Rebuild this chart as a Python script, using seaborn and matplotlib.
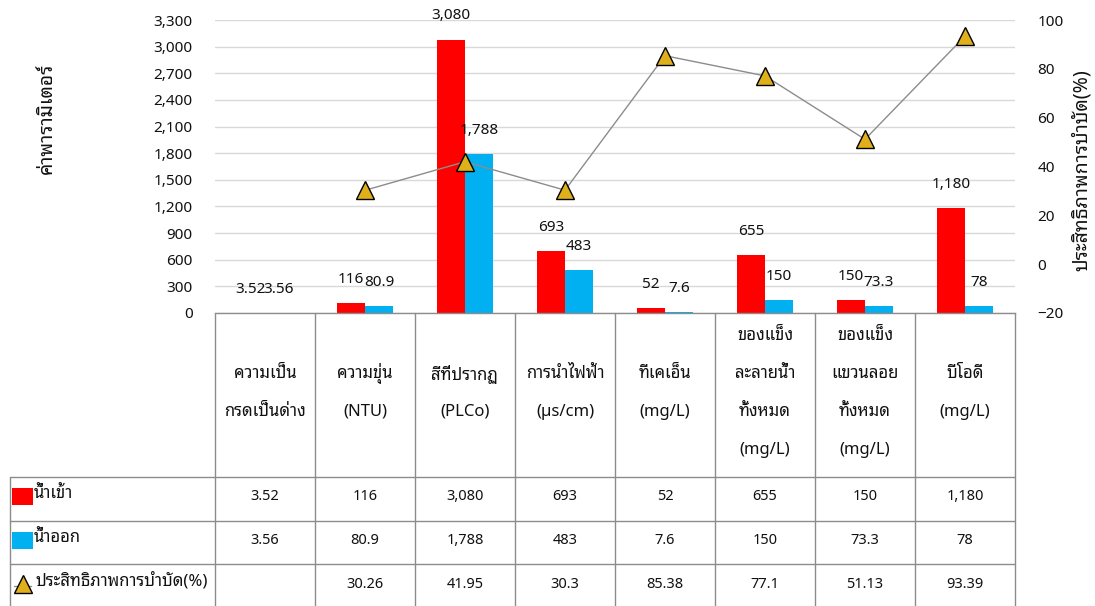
import numpy as np
import pandas as pd
import matplotlib
matplotlib.use("Agg")
import matplotlib.pyplot as plt
import seaborn as sns
from matplotlib.patches import Rectangle
from matplotlib.lines import Line2D
from matplotlib.transforms import blended_transform_factory
from matplotlib.ticker import FuncFormatter

# ---- data -------------------------------------------------------------
category_lines = [
    ["ความเป็น", "กรดเป็นด่าง"],
    ["ความขุ่น", "(NTU)"],
    ["สีที่ปรากฏ", "(PLCo)"],
    ["การนำไฟฟ้า", "(µs/cm)"],
    ["ทีเคเอ็น", "(mg/L)"],
    ["ของแข็ง", "ละลายน้ำ", "ทั้งหมด", "(mg/L)"],
    ["ของแข็ง", "แขวนลอย", "ทั้งหมด", "(mg/L)"],
    ["บีโอดี", "(mg/L)"],
]
inflow = [3.52, 116, 3080, 693, 52, 655, 150, 1180]
outflow = [3.56, 80.9, 1788, 483, 7.6, 150, 73.3, 78]
efficiency = [np.nan, 30.26, 41.95, 30.3, 85.38, 77.1, 51.13, 93.39]

series_names = ["น้ำเข้า", "น้ำออก"]
efficiency_name = "ประสิทธิภาพการบำบัด(%)"
left_title = "ค่าพารามิเตอร์"
right_title = "ประสิทธิภาพการบำบัด(%)"
left_ticks = list(range(0, 3301, 300))
right_ticks = list(range(-20, 101, 20))

# ---- style ------------------------------------------------------------
RED, BLUE = "#FF0000", "#00B0F0"
GOLD, LINE_GREY = "#E0B01C", "#8C8C8C"
GRID, TABLE = "#D9D9D9", "#8C8C8C"
FS = 11          # numbers: ticks and bar labels
FS_TABLE = 10.5  # numbers inside the table
FS_THAI = 12     # header and row labels

sns.set_style("white")
plt.rcParams["font.family"] = ["Noto Sans", "Noto Sans Thai Looped"]
plt.rcParams["text.color"] = "#111111"
plt.rcParams["ytick.color"] = "#111111"

W, H = 1095, 606
fig = plt.figure(figsize=(W / 100, H / 100), dpi=100)


def fx(px):
    return px / W


def fy(py):
    return 1 - py / H


def fmt(v):
    return f"{v:,.0f}" if v >= 1000 else f"{v:g}"


categories = ["\n".join(lines) for lines in category_lines]
df = pd.DataFrame({
    "parameter": categories * 2,
    "series": [series_names[0]] * len(categories) + [series_names[1]] * len(categories),
    "value": inflow + outflow,
})

ax = fig.add_axes([fx(215), fy(313), fx(1015) - fx(215), fy(20) - fy(313)])
sns.barplot(data=df, x="parameter", y="value", hue="series", order=categories,
            hue_order=series_names, palette=[RED, BLUE], width=0.56, gap=0,
            saturation=1, linewidth=0, legend=False, ax=ax)
ax.set_xlim(-0.5, len(categories) - 0.5)
ax.set_ylim(left_ticks[0], left_ticks[-1])
ax.set_yticks(left_ticks)
ax.yaxis.set_major_formatter(FuncFormatter(lambda v, p: f"{v:,.0f}"))
ax.grid(axis="y", color=GRID, lw=1)
ax.grid(axis="x", visible=False)
ax.set_axisbelow(True)
ax.tick_params(axis="x", length=0, labelbottom=False)
ax.tick_params(axis="y", length=0, pad=16, labelsize=FS)
ax.set_xlabel("")
ax.set_ylabel("")
for side in ["top", "right", "left"]:
    ax.spines[side].set_visible(False)
ax.spines["bottom"].set_color(TABLE)
ax.spines["bottom"].set_linewidth(1)

# value labels above every bar
for container, vals in zip(ax.containers, [inflow, outflow]):
    for bar, v in zip(container, vals):
        ax.annotate(fmt(v), (bar.get_x() + bar.get_width() / 2, v),
                    xytext=(0, 17), textcoords="offset points",
                    ha="center", va="center", fontsize=FS)

# removal efficiency on the secondary axis
ax2 = ax.twinx()
sns.lineplot(x=np.arange(len(categories)), y=efficiency, ax=ax2, estimator=None,
             color=LINE_GREY, lw=1, marker="^", markersize=12.5,
             markerfacecolor=GOLD, markeredgecolor="black", markeredgewidth=1)
ax2.set_xlim(-0.5, len(categories) - 0.5)
ax2.set_ylim(right_ticks[0], right_ticks[-1])
ax2.set_yticks(right_ticks)
ax2.tick_params(axis="y", length=0, pad=16, labelsize=FS)
ax2.set_ylabel("")
ax2.set_xlabel("")
for side in ax2.spines:
    ax2.spines[side].set_visible(False)

fig.text(fx(47), fy(118), left_title, rotation=90, ha="center", va="center",
         fontsize=14, fontweight="bold")
fig.text(fx(1082), fy(170), right_title, rotation=90, ha="center", va="center",
         fontsize=14)

# ---- data table under the plot ---------------------------------------
tr = blended_transform_factory(ax.transData, fig.transFigure)
n = len(categories)
for i in range(n + 1):
    fig.add_artist(Line2D([i - 0.5, i - 0.5], [fy(313), fy(606)], transform=tr,
                          color=TABLE, lw=1))
fig.add_artist(Line2D([fx(10), fx(10)], [fy(477), fy(606)],
                      transform=fig.transFigure, color=TABLE, lw=1))
for py in [477, 521, 564]:
    fig.add_artist(Line2D([fx(10), fx(1015)], [fy(py), fy(py)],
                          transform=fig.transFigure, color=TABLE, lw=1))

# header cells
for i, lines in enumerate(category_lines):
    k = len(lines)
    for j, line in enumerate(lines):
        py = 393 + (j - (k - 1) / 2) * 38
        ax.text(i, fy(py), line, transform=tr, ha="center", va="center",
                fontsize=FS_THAI)

# value rows
row_centers = [497, 541, 584]
for vals, py in zip([inflow, outflow, efficiency], row_centers):
    for i, v in enumerate(vals):
        if np.isnan(v):
            continue
        ax.text(i, fy(py), fmt(v), transform=tr, ha="center", va="center",
                fontsize=FS_TABLE)

# row headers with legend keys
fig.add_artist(Rectangle((fx(12), fy(505)), fx(21), 17 / H, transform=fig.transFigure,
                         facecolor=RED, edgecolor="none"))
fig.add_artist(Rectangle((fx(12), fy(549)), fx(21), 17 / H, transform=fig.transFigure,
                         facecolor=BLUE, edgecolor="none"))
fig.add_artist(Line2D([fx(14), fx(31)], [fy(586), fy(586)], transform=fig.transFigure,
                      color=LINE_GREY, lw=1))
fig.add_artist(Line2D([fx(22.5)], [fy(584)], transform=fig.transFigure, marker="^",
                      markersize=12.5, markerfacecolor=GOLD, markeredgecolor="black",
                      markeredgewidth=1, linestyle="none"))
fig.text(fx(34), fy(494), series_names[0], ha="left", va="center", fontsize=FS_THAI)
fig.text(fx(34), fy(538), series_names[1], ha="left", va="center", fontsize=FS_THAI)
fig.text(fx(36), fy(581), efficiency_name, ha="left", va="center", fontsize=FS_THAI)

fig.savefig("out.png", dpi=100)
